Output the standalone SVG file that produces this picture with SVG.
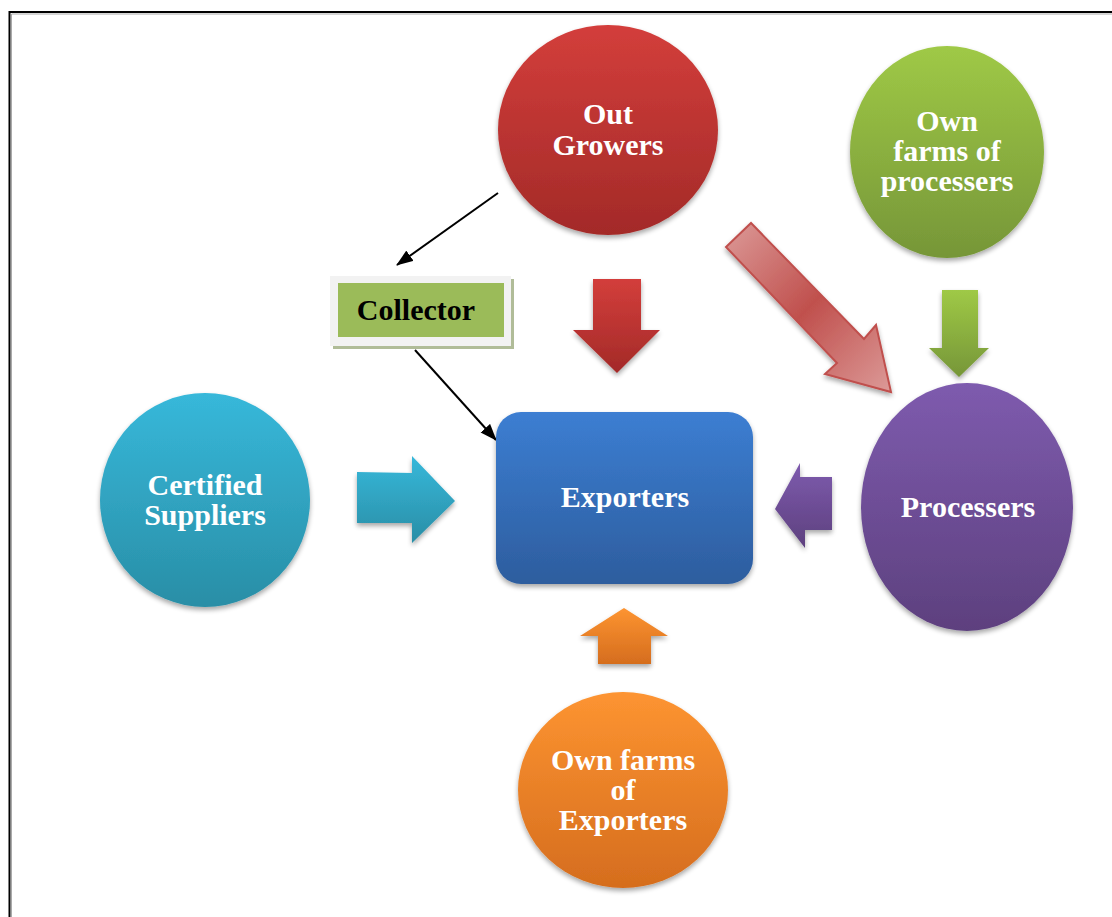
<svg xmlns="http://www.w3.org/2000/svg" width="1112" height="917" viewBox="0 0 1112 917">
<defs>
<linearGradient id="gRed" x1="0" y1="0" x2="0" y2="1"><stop offset="0" stop-color="#d33e3b"/><stop offset="1" stop-color="#a32a28"/></linearGradient>
<linearGradient id="gGreen" x1="0" y1="0" x2="0" y2="1"><stop offset="0" stop-color="#9fc946"/><stop offset="1" stop-color="#769638"/></linearGradient>
<linearGradient id="gCyan" x1="0" y1="0" x2="0" y2="1"><stop offset="0" stop-color="#37b8da"/><stop offset="1" stop-color="#298ea6"/></linearGradient>
<linearGradient id="gPurple" x1="0" y1="0" x2="0" y2="1"><stop offset="0" stop-color="#7e5bae"/><stop offset="1" stop-color="#5d407e"/></linearGradient>
<linearGradient id="gOrange" x1="0" y1="0" x2="0" y2="1"><stop offset="0" stop-color="#fd9431"/><stop offset="1" stop-color="#d56d1e"/></linearGradient>
<linearGradient id="gBlue" x1="0" y1="0" x2="0" y2="1"><stop offset="0" stop-color="#3c7ed2"/><stop offset="1" stop-color="#2d5d9e"/></linearGradient>
<linearGradient id="gPink" x1="0" y1="0" x2="1" y2="1"><stop offset="0" stop-color="#dc9a98"/><stop offset="0.5" stop-color="#c0504d"/><stop offset="1" stop-color="#dc9a98"/></linearGradient>
<filter id="sh" x="-20%" y="-20%" width="140%" height="140%"><feGaussianBlur in="SourceAlpha" stdDeviation="2.5"/><feOffset dx="0" dy="3"/><feComponentTransfer><feFuncA type="linear" slope="0.35"/></feComponentTransfer><feMerge><feMergeNode/><feMergeNode in="SourceGraphic"/></feMerge></filter>
<marker id="ah" viewBox="0 0 16 12" refX="15" refY="6" markerWidth="17" markerHeight="13" markerUnits="userSpaceOnUse" orient="auto"><path d="M0,0 L16,6 L0,12 z" fill="#000"/></marker>
<style>
.t{font-family:"Liberation Serif","Times New Roman",serif;font-weight:bold;font-size:30px;fill:#fff;text-anchor:middle}
.tk{fill:#000}
</style>
</defs>
<rect width="1112" height="917" fill="#fff"/>
<path d="M9.5,917 V12 H1112" fill="none" stroke="#000" stroke-width="2"/>
<path d="M11.5,917 V14 H1112" fill="none" stroke="#aaa" stroke-width="1"/>

<g id="connectors">
<line x1="498" y1="193" x2="397" y2="265" stroke="#000" stroke-width="2" marker-end="url(#ah)"/>
<line x1="415" y1="350" x2="496" y2="440" stroke="#000" stroke-width="2" marker-end="url(#ah)"/>
<polygon points="593,279 641,279 641,330 660,330 617,373 573,330 593,330" fill="url(#gRed)" filter="url(#sh)"/>
<polygon points="942,290 978,290 978,348 989,348 959,377 929,348 942,348" fill="url(#gGreen)" filter="url(#sh)"/>
<polygon points="357,472 412,473 412,456 455,501 412,543 412,523 357,523" fill="url(#gCyan)" filter="url(#sh)"/>
<polygon points="832,477 800,477 800,463 775,509 805,548 805,530 832,530" fill="url(#gPurple)" filter="url(#sh)"/>
<polygon points="598,664 651,664 651,636 668,636 624,608 580,636 598,636" fill="url(#gOrange)" filter="url(#sh)"/>
<polygon points="726,247 751,223 864,339 876,325 891,392 825,374 837,363" fill="url(#gPink)" stroke="#c0504d" stroke-width="2" stroke-linejoin="miter" filter="url(#sh)"/>
</g>

<g id="out-growers">
<ellipse cx="608" cy="130" rx="110" ry="105" fill="url(#gRed)" filter="url(#sh)"/>
<text class="t" x="608" y="124">Out</text>
<text class="t" x="608" y="155">Growers</text>
</g>
<g id="own-farms-processers">
<ellipse cx="947" cy="152" rx="97" ry="106" fill="url(#gGreen)" filter="url(#sh)"/>
<text class="t" x="947" y="131">Own</text>
<text class="t" x="947" y="161">farms of</text>
<text class="t" x="947" y="191">processers</text>
</g>
<g id="collector">
<rect x="333" y="279" width="181" height="70" fill="#b0bc98"/>
<rect x="330" y="276" width="181" height="70" fill="#f2f2f2"/>
<rect x="338" y="283" width="166" height="54" fill="#9bbb59"/>
<text class="t tk" x="416" y="320">Collector</text>
</g>
<g id="certified-suppliers">
<ellipse cx="205" cy="500" rx="105" ry="107" fill="url(#gCyan)" filter="url(#sh)"/>
<text class="t" x="205" y="495">Certified</text>
<text class="t" x="205" y="525">Suppliers</text>
</g>
<g id="exporters">
<rect x="496" y="412" width="257" height="172" rx="25" fill="url(#gBlue)" filter="url(#sh)"/>
<text class="t" x="625" y="507">Exporters</text>
</g>
<g id="processers">
<ellipse cx="967" cy="507" rx="106" ry="124" fill="url(#gPurple)" filter="url(#sh)"/>
<text class="t" x="968" y="517">Processers</text>
</g>
<g id="own-farms-exporters">
<ellipse cx="623" cy="790" rx="105" ry="98" fill="url(#gOrange)" filter="url(#sh)"/>
<text class="t" x="623" y="770">Own farms</text>
<text class="t" x="623" y="800">of</text>
<text class="t" x="623" y="830">Exporters</text>
</g>
</svg>
